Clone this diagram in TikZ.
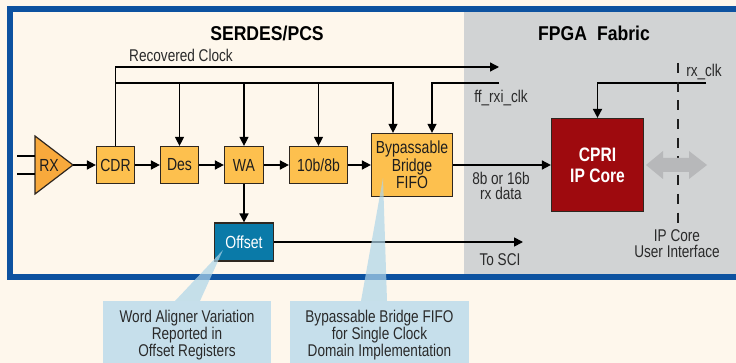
\documentclass[tikz,border=0pt]{standalone}
\usepackage{fontspec}
\setmainfont{Liberation Sans}[FakeStretch=0.8]
\newfontfamily\titlefont{Liberation Sans}[FakeStretch=0.88]
\usetikzlibrary{arrows.meta}
\definecolor{cream}{HTML}{FEF7EC}
\definecolor{graybg}{HTML}{D1D3D4}
\definecolor{frameblue}{HTML}{0D52A0}
\definecolor{orangebox}{HTML}{FDC04E}
\definecolor{rxorange}{HTML}{F8A93C}
\definecolor{boxedge}{HTML}{2E2720}
\definecolor{offsetblue}{HTML}{0A7AA8}
\definecolor{cprired}{HTML}{9E0A0E}
\definecolor{callout}{HTML}{C6DFEB}
\definecolor{wedgecol}{HTML}{AED5E9}
\definecolor{txt}{HTML}{1E1E1E}
\definecolor{txtgray}{HTML}{2A2A2A}
\definecolor{arrowgray}{HTML}{B7B8BA}
\begin{document}
\begin{tikzpicture}[x=1pt,y=-1pt,
  conn/.style={line width=1.7pt, draw=black},
  arr/.style={conn, -{Triangle[length=9pt,width=9pt]}},
  busline/.style={line width=1.3pt, draw=black},
  busarr/.style={busline, -{Triangle[length=9pt,width=9pt]}},
  blk/.style={draw=boxedge, line width=1.2pt, fill=orangebox, inner sep=0pt,
    font=\fontsize{17.5}{17.5}\selectfont, text=txt, align=center},
  lbl/.style={font=\fontsize{17}{15.5}\selectfont, text=txtgray, align=center, inner sep=0pt},
  title/.style={font=\titlefont\bfseries\fontsize{20}{24}\selectfont, text=black, inner sep=0pt},
]
\useasboundingbox (0,0) rectangle (736,363);
\fill[cream] (0,0) rectangle (736,363);
\fill[graybg] (464,12) rectangle (736,274);
\draw[frameblue, line width=6pt] (742,9) -- (10,9) -- (10,277) -- (742,277);

% titles
\node[title] (serdes) at (267,33) {SERDES/PCS};
\node[title] (fpga) at (594,33) {FPGA\hspace{0.5em}Fabric};

% RX amplifier
\coordinate (rxtip) at (73,165);
\fill[rxorange, draw=boxedge, line width=1.2pt] (35,136) -- (rxtip) -- (35,194) -- cycle;
\node[font=\fontsize{17.5}{17.5}\selectfont, text=txt, inner sep=0pt] (rx) at (49,165) {RX};
\coordinate (ina1) at (17,156); \coordinate (ina2) at (35,156);
\coordinate (inb1) at (17,174); \coordinate (inb2) at (35,174);
\draw[conn] (ina1) -- (ina2);
\draw[conn] (inb1) -- (inb2);

% blocks
\node[blk, minimum width=38pt, minimum height=37pt] (cdr) at (115.5,165) {CDR};
\node[blk, minimum width=38pt, minimum height=37pt] (des) at (179.5,165) {Des};
\node[blk, minimum width=39pt, minimum height=37pt] (wa) at (244,165) {WA};
\node[blk, minimum width=58pt, minimum height=37pt] (tenb) at (318.5,165) {10b/8b};
\node[blk, minimum width=81pt, minimum height=63pt] (fifo) at (412,165) {Bypassable\\Bridge\\FIFO};
\node[draw=boxedge, line width=1.2pt, fill=cprired, minimum width=92pt, minimum height=93pt,
  inner sep=0pt, text=white, align=center, font=\bfseries\fontsize{19.5}{21}\selectfont] (cpri) at (597.5,165) {CPRI\\IP Core};
\node[draw=boxedge, line width=1.2pt, fill=offsetblue, minimum width=59pt, minimum height=38pt,
  inner sep=0pt, text=white, font=\fontsize{17.5}{17.5}\selectfont] (offset) at (244,242) {Offset};

% data path
\draw[arr] (rxtip) -- (cdr.west);
\draw[arr] (cdr) -- (des);
\draw[arr] (des) -- (wa);
\draw[arr] (wa) -- (tenb);
\draw[arr] (tenb) -- (fifo);
\draw[arr] (fifo) -- (cpri);
\draw[arr] (wa.south) -- (offset.north);
\coordinate (sci) at (523,242);
\draw[arr] (offset.east) -- (sci);

% recovered clock
\coordinate (rcend) at (499,67);
\coordinate (busL) at (115.5,83);
\coordinate (t1) at (393,83);
\draw[busarr] (cdr.north) |- (rcend);
\draw[busarr] (busL) -- (t1) -- (t1 |- fifo.north);
\draw[busarr] (des.north |- busL) -- (des.north);
\draw[busarr] (wa.north |- busL) -- (wa.north);
\draw[busarr] (tenb.north |- busL) -- (tenb.north);
\coordinate (ffin) at (499,83);
\coordinate (t2) at (432,83);
\draw[busarr] (ffin) -- (t2) -- (t2 |- fifo.north);
\coordinate (rxclkin) at (706,83);
\draw[arr] (rxclkin) -| (cpri.north);

% user interface boundary
\coordinate (dtop) at (678,63);
\coordinate (dbot) at (678,222.6);
\draw[line width=1.2pt, txt, dash pattern=on 10pt off 8.7pt] (dtop) -- (dbot);
\fill[arrowgray] (646,165) -- (663,151) -- (663,158) -- (689,158) -- (689,151) -- (707,165)
  -- (689,179) -- (689,172) -- (663,172) -- (663,179) -- cycle;

% labels
\node[lbl] (rclbl) at (181,55) {Recovered Clock};
\node[lbl] (fflbl) at (501,98) {ff\_rxi\_clk};
\node[lbl] (rxclklbl) at (704,72) {rx\_clk};
\node[lbl] (datalbl) at (501,186) {8b or 16b\\rx data};
\node[lbl] (scilbl) at (500,260) {To SCI};
\node[lbl, font=\fontsize{17}{16}\selectfont] (uilbl) at (677,244) {IP Core\\User Interface};

% callouts
\fill[callout] (103,301) rectangle (271,366);
\fill[callout] (290,301) rectangle (469,366);
\fill[wedgecol, fill opacity=0.7] (175,301) -- (223,250) -- (200,301) -- cycle;
\fill[wedgecol, fill opacity=0.7] (361,301) -- (383,178) -- (387,301) -- cycle;
\node[lbl] (c1txt) at (187,335) {Word Aligner Variation\\Reported in\\Offset Registers};
\node[lbl] (c2txt) at (379.5,335) {Bypassable Bridge FIFO\\for Single Clock\\Domain Implementation};
\end{tikzpicture}
\end{document}
